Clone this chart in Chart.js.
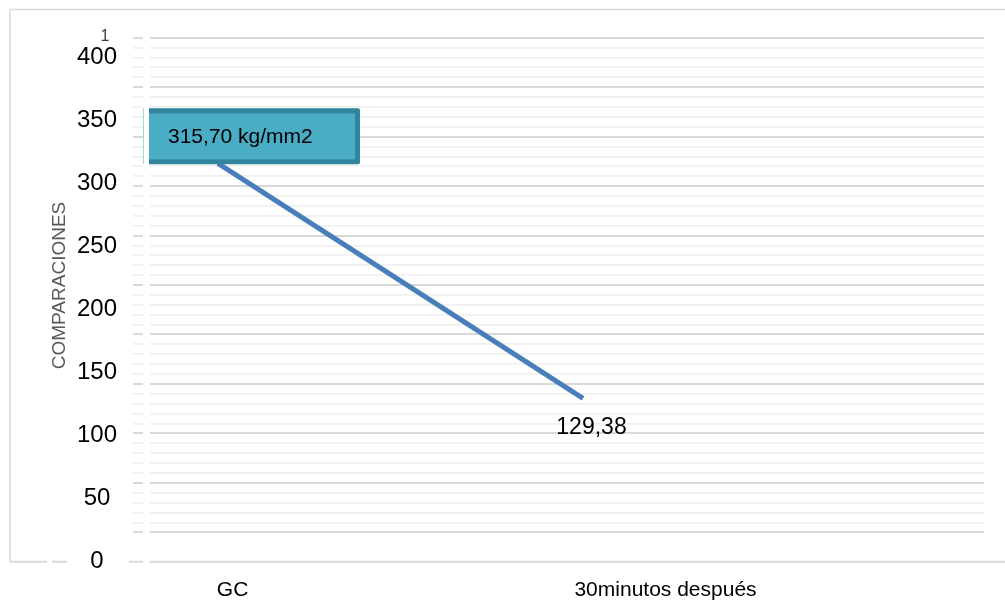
<!DOCTYPE html>
<html>
<head>
<meta charset="utf-8">
<script src="https://cdn.jsdelivr.net/npm/chart.js@4.4.1/dist/chart.umd.min.js"></script>
<style>
  html, body { margin: 0; padding: 0; background: #ffffff; }
  #wrap { position: relative; width: 1005px; height: 600px; }
</style>
</head>
<body>
<div id="wrap"><canvas id="chart"></canvas></div>
<script>
// ---- data ----
const categories = ['GC', '30minutos después'];
const values = [315.70, 129.38];
const valueUnits = ['kg/mm2', ''];
const yTicks = [0, 50, 100, 150, 200, 250, 300, 350, 400];
const axisTitle = 'COMPARACIONES';
const cornerNote = '1';

// ---- styling / placement ----
const FONT = "'Liberation Sans', Arial, Helvetica, sans-serif";
const LINE_COLOR = '#4a7ebb';
const categoryLabelAt = [0.04, 1.226];   // where the category names sit on the x scale
const xRange = [-0.1863, 2.0986];
const yMax = 415.3;

Chart.defaults.font.family = FONT;

const fmt = v => v.toFixed(2).replace('.', ',');

// light frame around the chart, with the base line broken around the zero label
const framePlugin = {
  id: 'frame',
  beforeDraw(chart) {
    const ctx = chart.ctx;
    const base = chart.chartArea.bottom;
    ctx.save();
    ctx.strokeStyle = '#d9d9d9';
    ctx.lineWidth = 1.5;
    ctx.beginPath();
    ctx.moveTo(10, 9.5); ctx.lineTo(1005, 9.5);
    ctx.moveTo(10, 9.5); ctx.lineTo(10, base);
    ctx.stroke();
    ctx.lineWidth = 2;
    ctx.beginPath();
    [[10, 47], [52, 67], [129, 143], [150, 1005]].forEach(([a, b]) => {
      ctx.moveTo(a, base); ctx.lineTo(b, base);
    });
    ctx.stroke();
    ctx.restore();
  }
};

// rotated axis title and the small note above the value axis
const textPlugin = {
  id: 'sideText',
  afterDraw(chart) {
    const ctx = chart.ctx;
    ctx.save();
    ctx.fillStyle = '#595959';
    ctx.font = '19px ' + FONT;
    ctx.textAlign = 'center';
    ctx.textBaseline = 'middle';
    ctx.translate(60, 285.5);
    ctx.rotate(-Math.PI / 2);
    ctx.fillText(axisTitle, 0, 0);
    ctx.restore();

    ctx.save();
    ctx.fillStyle = '#404040';
    ctx.font = '16px ' + FONT;
    ctx.textAlign = 'center';
    ctx.textBaseline = 'middle';
    ctx.fillText(cornerNote, 105, 37);
    ctx.restore();
  }
};

// value labels next to each end of the line
const valueLabelPlugin = {
  id: 'valueLabels',
  afterDatasetsDraw(chart) {
    const ctx = chart.ctx;
    const pts = chart.getDatasetMeta(0).data;
    const area = chart.chartArea;

    // first value: boxed callout, clipped at the plot's left edge
    const p0 = pts[0];
    const box = { l: p0.x - 90, r: p0.x + 142, t: p0.y - 55, b: p0.y + 1 };
    ctx.save();
    ctx.beginPath();
    ctx.rect(area.left - 1, 0, chart.width, chart.height);
    ctx.clip();
    ctx.fillStyle = '#31849b';
    ctx.beginPath();
    ctx.roundRect(box.l, box.t, box.r - box.l, box.b - box.t, 2);
    ctx.fill();
    ctx.fillStyle = '#4bacc6';
    ctx.fillRect(box.l + 5, box.t + 5, box.r - box.l - 10, box.b - box.t - 10);
    ctx.restore();

    ctx.save();
    ctx.strokeStyle = '#a9d3de';
    ctx.lineWidth = 1;
    ctx.beginPath();
    ctx.moveTo(143.5, box.t); ctx.lineTo(143.5, box.b);
    ctx.stroke();

    ctx.fillStyle = '#000000';
    ctx.font = '21px ' + FONT;
    ctx.textAlign = 'left';
    ctx.textBaseline = 'middle';
    const t0 = fmt(values[0]) + (valueUnits[0] ? ' ' + valueUnits[0] : '');
    ctx.fillText(t0, area.left + 18, (box.t + box.b) / 2 + 1);

    // second value: plain text under the line end
    const p1 = pts[1];
    ctx.font = '23px ' + FONT;
    ctx.textAlign = 'center';
    const t1 = fmt(values[1]) + (valueUnits[1] ? ' ' + valueUnits[1] : '');
    ctx.fillText(t1, p1.x + 8.5, p1.y + 29);
    ctx.restore();
  }
};

const isMajor = v => Math.abs(v - Math.round(v)) < 1e-6;

new Chart(document.getElementById('chart'), {
  type: 'line',
  data: {
    datasets: [{
      data: values.map((v, i) => ({ x: i, y: v })),
      borderColor: LINE_COLOR,
      borderWidth: 5,
      borderCapStyle: 'butt',
      pointRadius: 0,
      pointHoverRadius: 0,
      tension: 0,
      fill: false
    }]
  },
  options: {
    responsive: true,
    maintainAspectRatio: false,
    animation: false,
    layout: { padding: { left: 20, right: 21, top: 37.7, bottom: 0 } },
    plugins: {
      legend: { display: false },
      tooltip: { enabled: false },
      title: { display: false }
    },
    scales: {
      x: {
        type: 'linear',
        position: 'bottom',
        min: xRange[0],
        max: xRange[1],
        grid: { display: false, drawTicks: false },
        border: { display: false },
        ticks: {
          color: '#000000',
          font: { size: 21 },
          padding: 16,
          maxRotation: 0,
          autoSkip: false,
          callback: (v, i) => categories[i]
        },
        afterBuildTicks: s => { s.ticks = categoryLabelAt.map(v => ({ value: v })); },
        afterFit: s => { s.height = 38.3; }
      },
      y: {
        position: 'left',
        weight: 1,
        min: 0,
        max: yMax,
        grid: { display: false, drawTicks: false },
        border: { display: false },
        ticks: {
          color: '#000000',
          font: { size: 24 },
          padding: 16,
          crossAlign: 'center'
        },
        afterBuildTicks: s => { s.ticks = yTicks.map(v => ({ value: v })); },
        afterFit: s => { s.width = 113; }
      },
      gridY: {
        position: 'left',
        weight: 0,
        min: -0.594,
        max: 10,
        border: { display: false },
        ticks: { display: false },
        grid: {
          color: c => isMajor(c.tick.value) ? '#d9d9d9' : '#f0f0f0',
          lineWidth: c => isMajor(c.tick.value) ? 2 : 1.8,
          drawTicks: true,
          tickLength: 17,
          tickBorderDash: [10, 7]
        },
        afterBuildTicks: s => { s.ticks = Array.from({ length: 51 }, (_, i) => ({ value: i / 5 })); },
        afterFit: s => { s.width = 17; }
      }
    }
  },
  plugins: [framePlugin, textPlugin, valueLabelPlugin]
});
</script>
</body>
</html>
